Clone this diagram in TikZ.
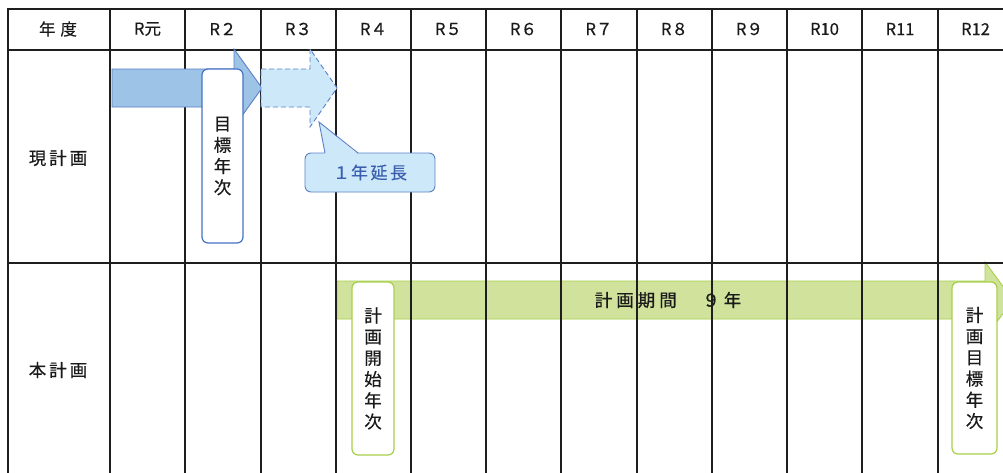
\documentclass[tikz,border=0pt]{standalone}
\usepackage{fontspec}
\setmainfont{Noto Sans CJK JP}[FakeBold=0.4]
\definecolor{gridc}{HTML}{1E1E1E}
\definecolor{txt}{HTML}{1A1A1A}
\definecolor{bluefill}{HTML}{9DC3E6}
\definecolor{blueline}{HTML}{5B80C8}
\definecolor{lightfill}{HTML}{CDE8F8}
\definecolor{boxblue}{HTML}{4472C4}
\definecolor{greenfill}{HTML}{D0E29B}
\definecolor{greenline}{HTML}{A6D04A}
\definecolor{calltext}{HTML}{3B5FAF}
\newcommand{\kk}{\kern4pt}
\begin{document}
\begin{tikzpicture}[x=1pt,y=-1pt,
  gridline/.style={draw=gridc,line width=2pt},
  hdr/.style={text=txt,font=\fontsize{16.5}{18}\selectfont,inner sep=0pt},
  rowlab/.style={text=txt,font=\fontsize{17.5}{20}\selectfont,inner sep=0pt},
  vbox/.style={rounded corners=6pt,fill=white,line width=1.2pt,align=center,
    text=txt,font=\fontsize{17.5}{21.2}\selectfont,inner sep=0pt},
  solidarrow/.style={fill=bluefill,draw=blueline,line width=0.9pt,line join=miter},
  dasharrow/.style={fill=lightfill,draw=blueline,line width=0.9pt,dashed,dash pattern=on 5pt off 3pt},
  greenarrow/.style={fill=greenfill,draw=greenline,line width=0.9pt}
]
\useasboundingbox (0,0) rectangle (1003,472);
\clip (0,0) rectangle (1003,472);
\fill[white] (0,0) rectangle (1003,472);

% green plan arrow (under grid)
\path[greenarrow] (337,281) -- (985,281) -- (985,262) -- (1013,300) -- (985,338) -- (985,319) -- (337,319) -- cycle;
\node[rowlab] (span) at (668,300) {計\kk 画\kk 期\kk 間\kk 　\kk ９\kk 年};

% grid
\foreach \x in {8,110,185,261,336,411,486,561,637,712,787,862,938,1013}
  \draw[gridline] (\x,9) -- (\x,480);
\foreach \y in {9,50,263}
  \draw[gridline] (7,\y) -- (1020,\y);

% header
\node[hdr] (h0) at (58,29) {年\kern5pt 度};
\node[hdr] (h1) at (147.5,29) {R元};
\node[hdr] (h2) at (223,29) {R２};
\node[hdr] (h3) at (298.5,29) {R３};
\node[hdr] (h4) at (373.5,29) {R４};
\node[hdr] (h5) at (448.5,29) {R５};
\node[hdr] (h6) at (523.5,29) {R６};
\node[hdr] (h7) at (599,29) {R７};
\node[hdr] (h8) at (674.5,29) {R８};
\node[hdr] (h9) at (749.5,29) {R９};
\node[hdr] (h10) at (824.5,29) {R10};
\node[hdr] (h11) at (900,29) {R11};
\node[hdr] (h12) at (975.5,29) {R12};

% row labels
\node[rowlab] (r1) at (58,158) {現\kern3pt 計\kern3pt 画};
\node[rowlab] (r2) at (58,370) {本\kern3pt 計\kern3pt 画};

% current plan arrows
\path[solidarrow] (112,69) -- (234,69) -- (234,49) -- (262,88) -- (234,127) -- (234,107) -- (112,107) -- cycle;
\path[dasharrow] (261,69) -- (310,69) -- (310,49) -- (337,88) -- (310,127) -- (310,107) -- (261,107) -- cycle;

% target year box
\node[vbox,draw=boxblue,minimum width=41pt,minimum height=174pt] (goal) at (222.5,156) {目\\標\\年\\次};

% callout
\node[draw=blueline,fill=lightfill,rounded corners=6pt,line width=0.9pt,
  minimum width=130pt,minimum height=39pt,inner sep=0pt,text=calltext,
  font=\fontsize{17}{19}\selectfont] (ext) at (370,172.5) {１\kern1pt 年\kern2.5pt 延\kern2.5pt 長};
\coordinate (ptip) at (319,122);
\fill[lightfill] (325,154.2) -- (ptip) -- (358,154.2) -- cycle;
\draw[blueline,line width=0.9pt,line join=miter] (325,153) -- (ptip) -- (358,153);

% new plan boxes
\node[vbox,draw=greenline,minimum width=42pt,minimum height=173pt] (start) at (373,368.5) {計\\画\\開\\始\\年\\次};
\node[vbox,draw=greenline,minimum width=45pt,minimum height=172pt] (end) at (974.5,368) {計\\画\\目\\標\\年\\次};
\end{tikzpicture}
\end{document}
